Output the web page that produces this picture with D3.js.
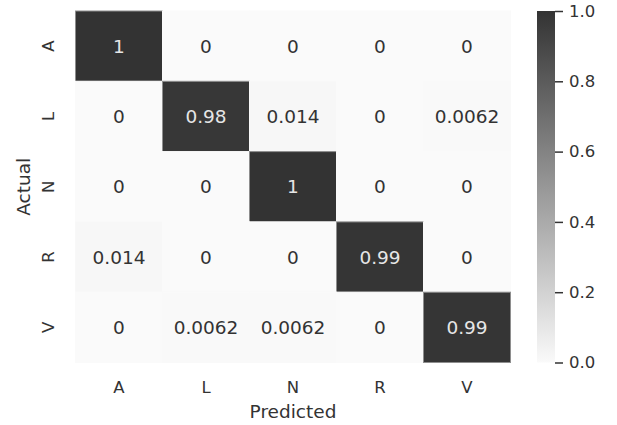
<!DOCTYPE html>
<html>
<head>
<meta charset="utf-8">
<script src="https://cdn.jsdelivr.net/npm/d3@7"></script>
<style>
  html, body { margin: 0; padding: 0; background: #ffffff; }
  svg { display: block; }
  text { font-family: "DejaVu Sans", sans-serif; }
</style>
</head>
<body>
<svg id="chart" width="617" height="425"></svg>
<script>
// ---- data ----
const actualLabels = ["A", "L", "N", "R", "V"];
const predictedLabels = ["A", "L", "N", "R", "V"];
const rowA = [1, 0, 0, 0, 0];
const rowL = [0, 0.98, 0.014, 0, 0.0062];
const rowN = [0, 0, 1, 0, 0];
const rowR = [0.014, 0, 0, 0.99, 0];
const rowV = [0, 0.0062, 0.0062, 0, 0.99];
const annotA = ["1", "0", "0", "0", "0"];
const annotL = ["0", "0.98", "0.014", "0", "0.0062"];
const annotN = ["0", "0", "1", "0", "0"];
const annotR = ["0.014", "0", "0", "0.99", "0"];
const annotV = ["0", "0.0062", "0.0062", "0", "0.99"];
const colorbarTicks = [0, 0.2, 0.4, 0.6, 0.8, 1.0];
const xTitle = "Predicted";
const yTitle = "Actual";

(function () {
const rows = [rowA, rowL, rowN, rowR, rowV];
const annots = [annotA, annotL, annotN, annotR, annotV];
const cells = [];
rows.forEach((r, i) => r.forEach((v, j) => cells.push({
  actual: actualLabels[i], predicted: predictedLabels[j], value: v, label: annots[i][j]
})));

// ---- layout ----
const mLeft = 75.5, mRight = 510.5, mTop = 11, mBottom = 362.5;
const cbLeft = 537, cbRight = 555;

const svg = d3.select("#chart");
const x = d3.scaleBand().domain(predictedLabels).range([mLeft, mRight]);
const y = d3.scaleBand().domain(actualLabels).range([mTop, mBottom]);
const color = d3.scaleLinear().domain([0, 1]).range(["#fafafa", "#333333"]).interpolate(d3.interpolateRgb);
const textDark = "#333333";

// cells
svg.append("g").selectAll("rect").data(cells).join("rect")
  .attr("x", d => x(d.predicted))
  .attr("y", d => y(d.actual))
  .attr("width", x.bandwidth())
  .attr("height", y.bandwidth())
  .attr("fill", d => color(d.value))
  .attr("stroke", d => d3.interpolateRgb(color(d.value), "#fafafa")(0.45))
  .attr("stroke-width", 1);

// annotations
svg.append("g").selectAll("text").data(cells).join("text")
  .attr("x", d => x(d.predicted) + x.bandwidth() / 2)
  .attr("y", d => y(d.actual) + y.bandwidth() / 2)
  .attr("text-anchor", "middle")
  .attr("dominant-baseline", "central")
  .attr("font-size", 18.5)
  .attr("fill", d => d.value > 0.5 ? "#e6e6e6" : textDark)
  .text(d => d.label);

// x tick labels
svg.append("g").selectAll("text").data(predictedLabels).join("text")
  .attr("x", d => x(d) + x.bandwidth() / 2)
  .attr("y", 393)
  .attr("text-anchor", "middle")
  .attr("font-size", 16.5)
  .attr("fill", textDark)
  .text(d => d);

// y tick labels (rotated)
svg.append("g").selectAll("text").data(actualLabels).join("text")
  .attr("transform", d => `translate(54,${y(d) + y.bandwidth() / 2}) rotate(-90)`)
  .attr("text-anchor", "middle")
  .attr("font-size", 16.5)
  .attr("fill", textDark)
  .text(d => d);

// axis titles
svg.append("text")
  .attr("x", (mLeft + mRight) / 2).attr("y", 418)
  .attr("text-anchor", "middle").attr("font-size", 18.5).attr("fill", textDark)
  .text(xTitle);
svg.append("text")
  .attr("transform", `translate(30,${(mTop + mBottom) / 2}) rotate(-90)`)
  .attr("text-anchor", "middle").attr("font-size", 18.5).attr("fill", textDark)
  .text(yTitle);

// colorbar
const defs = svg.append("defs");
const grad = defs.append("linearGradient").attr("id", "cbgrad")
  .attr("x1", 0).attr("y1", 1).attr("x2", 0).attr("y2", 0);
d3.range(0, 1.0001, 0.1).forEach(t => grad.append("stop").attr("offset", t).attr("stop-color", color(t)));
svg.append("rect")
  .attr("x", cbLeft).attr("y", mTop).attr("width", cbRight - cbLeft).attr("height", mBottom - mTop)
  .attr("fill", "url(#cbgrad)");

const cbScale = d3.scaleLinear().domain([0, 1]).range([mBottom, mTop]);
const cbAxis = d3.axisRight(cbScale).tickValues(colorbarTicks).tickFormat(d3.format(".1f")).tickSize(8).tickPadding(6);
const cbG = svg.append("g").attr("transform", `translate(${cbRight},0)`).call(cbAxis);
cbG.select(".domain").remove();
cbG.selectAll(".tick line").attr("stroke", textDark).attr("stroke-width", 1.5);
cbG.selectAll(".tick text").attr("font-size", 16.5).attr("fill", textDark)
  .attr("font-family", "DejaVu Sans, sans-serif");
})();
</script>
</body>
</html>
